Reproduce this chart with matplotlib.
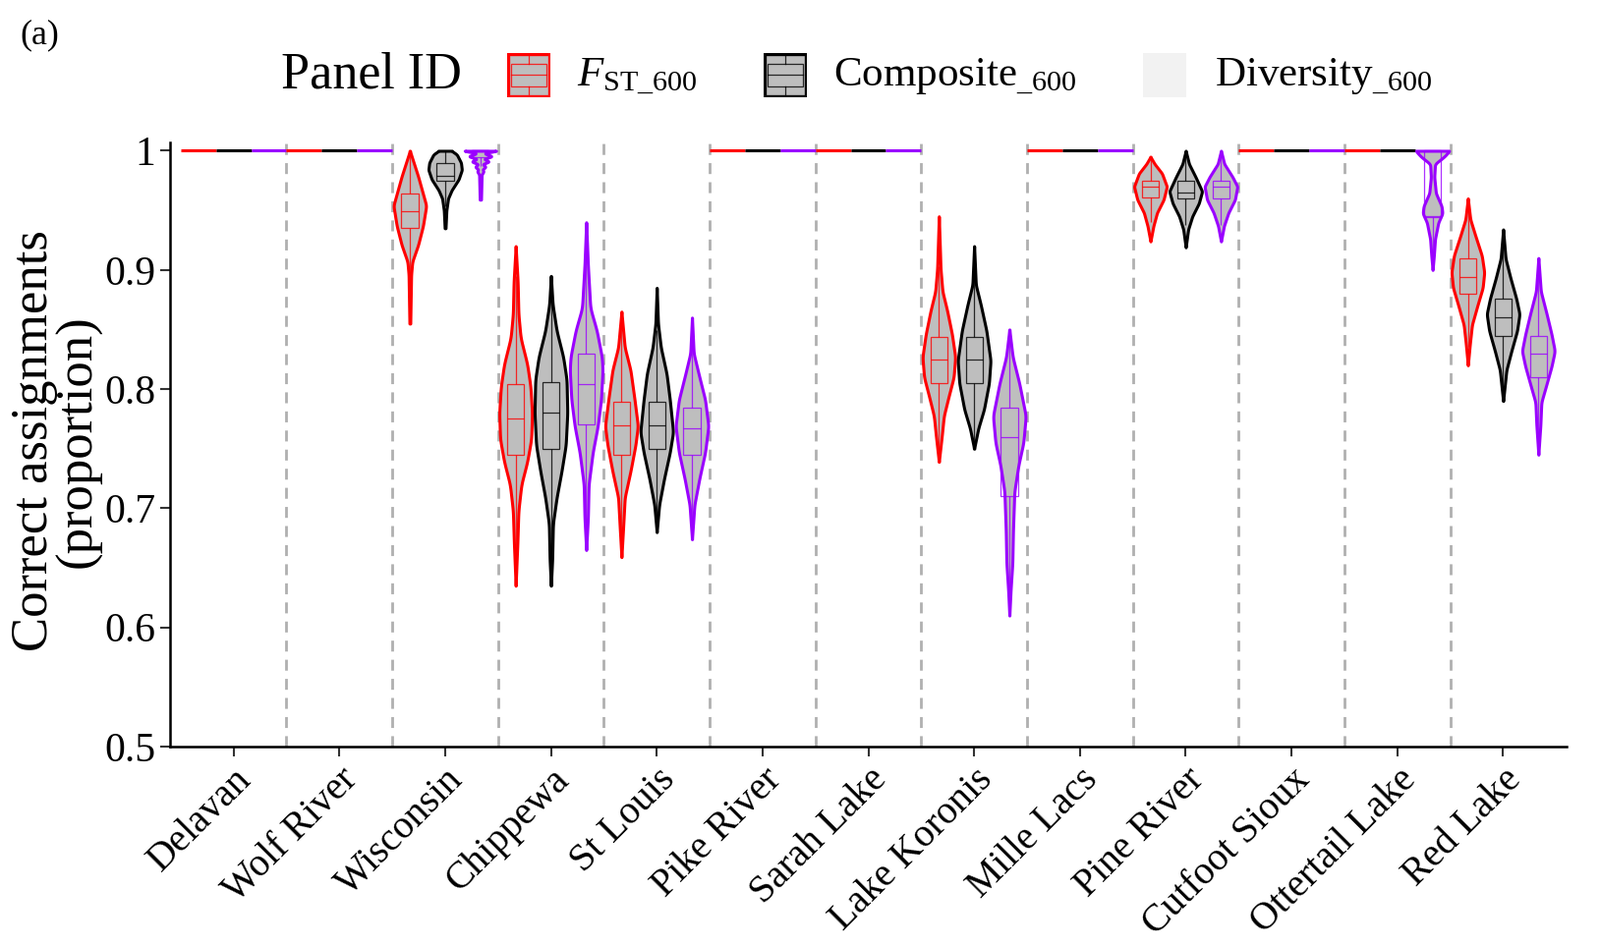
import numpy as np
import matplotlib
matplotlib.use('Agg')
import matplotlib.pyplot as plt
from matplotlib.patches import Rectangle

plt.rcParams['font.family'] = ['Liberation Serif', 'DejaVu Serif']
plt.rcParams['mathtext.fontset'] = 'custom'
plt.rcParams['mathtext.rm'] = 'Liberation Serif'
plt.rcParams['mathtext.it'] = 'Liberation Serif:italic'

populations = ['Delavan', 'Wolf River', 'Wisconsin', 'Chippewa', 'St Louis',
               'Pike River', 'Sarah Lake', 'Lake Koronis', 'Mille Lacs',
               'Pine River', 'Cutfoot Sioux', 'Ottertail Lake', 'Red Lake']
panel_colors = ['#FF0000', '#000000', '#9A00FF']

# violin outlines: (levels, density half-widths)
# populations not listed had every assignment correct (all values = 1)
fst_shape = {
    'Wisconsin': ([1.0, 0.9785, 0.954, 0.937, 0.921, 0.907, 0.896, 0.855],
                  [0.0, 0.078, 0.155, 0.124, 0.078, 0.023, 0.012, 0.004]),
    'Chippewa': ([0.92, 0.89, 0.863, 0.843, 0.821, 0.802, 0.78, 0.758, 0.739, 0.72, 0.698, 0.67, 0.635],
                 [0.0, 0.019, 0.026, 0.047, 0.109, 0.14, 0.155, 0.147, 0.109, 0.054, 0.026, 0.016, 0.0]),
    'St Louis': ([0.865, 0.835, 0.816, 0.791, 0.769, 0.753, 0.731, 0.709, 0.684, 0.659],
                 [0.0, 0.031, 0.085, 0.124, 0.155, 0.132, 0.085, 0.031, 0.016, 0.0]),
    'Lake Koronis': ([0.945, 0.901, 0.882, 0.866, 0.846, 0.827, 0.81, 0.794, 0.7775, 0.761, 0.739],
                     [0.0, 0.016, 0.034, 0.078, 0.124, 0.155, 0.14, 0.093, 0.047, 0.028, 0.0]),
    'Pine River': ([0.995, 0.989, 0.981, 0.97, 0.959, 0.948, 0.937, 0.924],
                   [0.0, 0.039, 0.109, 0.155, 0.124, 0.062, 0.028, 0.0]),
    'Red Lake': ([0.96, 0.9425, 0.929, 0.912, 0.898, 0.885, 0.871, 0.854, 0.838, 0.82],
                 [0.0, 0.023, 0.07, 0.132, 0.155, 0.14, 0.093, 0.039, 0.019, 0.0]),
}
composite_shape = {
    'Wisconsin': ([1.0, 0.997, 0.99, 0.984, 0.976, 0.967, 0.96, 0.95, 0.935],
                  [0.06, 0.11, 0.15, 0.158, 0.127, 0.062, 0.028, 0.012, 0.004]),
    'Chippewa': ([0.895, 0.871, 0.849, 0.827, 0.808, 0.78, 0.753, 0.731, 0.709, 0.687, 0.657, 0.635],
                 [0.0, 0.016, 0.054, 0.116, 0.148, 0.155, 0.14, 0.1, 0.054, 0.019, 0.012, 0.0]),
    'St Louis': ([0.885, 0.855, 0.835, 0.813, 0.791, 0.764, 0.747, 0.725, 0.703, 0.68],
                 [0.0, 0.012, 0.039, 0.093, 0.124, 0.155, 0.124, 0.07, 0.023, 0.0]),
    'Lake Koronis': ([0.92, 0.8875, 0.871, 0.849, 0.824, 0.805, 0.783, 0.767, 0.75],
                     [0.0, 0.016, 0.062, 0.116, 0.155, 0.14, 0.093, 0.039, 0.0]),
    'Pine River': ([1.0, 0.989, 0.978, 0.966, 0.956, 0.945, 0.934, 0.919],
                   [0.0, 0.031, 0.093, 0.155, 0.124, 0.062, 0.023, 0.0]),
    'Red Lake': ([0.934, 0.9095, 0.893, 0.876, 0.863, 0.849, 0.832, 0.816, 0.79],
                 [0.0, 0.023, 0.07, 0.124, 0.155, 0.132, 0.078, 0.031, 0.0]),
}
diversity_shape = {
    'Wisconsin': ([1.0, 0.998, 0.9954, 0.9932, 0.991, 0.9888, 0.9866, 0.9843, 0.9827, 0.98, 0.959],
                  [0.16, 0.03, 0.115, 0.03, 0.085, 0.02, 0.05, 0.02, 0.03, 0.012, 0.006]),
    'Chippewa': ([0.94, 0.904, 0.868, 0.849, 0.827, 0.816, 0.791, 0.769, 0.747, 0.72, 0.692, 0.665],
                 [0.0, 0.016, 0.039, 0.1, 0.148, 0.155, 0.14, 0.109, 0.062, 0.023, 0.016, 0.0]),
    'St Louis': ([0.86, 0.83, 0.813, 0.791, 0.769, 0.747, 0.725, 0.703, 0.674],
                 [0.0, 0.016, 0.062, 0.124, 0.155, 0.124, 0.07, 0.023, 0.0]),
    'Lake Koronis': ([0.85, 0.827, 0.805, 0.7775, 0.755, 0.736, 0.714, 0.681, 0.654, 0.632, 0.61],
                     [0.0, 0.031, 0.093, 0.155, 0.132, 0.085, 0.047, 0.034, 0.028, 0.012, 0.0]),
    'Pine River': ([1.0, 0.989, 0.978, 0.97, 0.959, 0.948, 0.937, 0.924],
                   [0.0, 0.031, 0.109, 0.155, 0.132, 0.07, 0.028, 0.0]),
    'Ottertail Lake': ([1.0, 0.995, 0.989, 0.978, 0.9645, 0.9535, 0.9475, 0.9398, 0.926, 0.912, 0.9],
                       [0.16, 0.109, 0.023, 0.016, 0.031, 0.085, 0.093, 0.054, 0.023, 0.012, 0.0]),
    'Red Lake': ([0.91, 0.882, 0.863, 0.846, 0.832, 0.819, 0.802, 0.789, 0.77, 0.745],
                 [0.0, 0.023, 0.078, 0.124, 0.155, 0.124, 0.07, 0.028, 0.019, 0.0]),
}

# box stats (q1, median, q3)
fst_box = {'Wisconsin': (0.935, 0.949, 0.9645), 'Chippewa': (0.7445, 0.775, 0.8045),
           'St Louis': (0.7445, 0.7698, 0.7896), 'Lake Koronis': (0.8048, 0.8248, 0.844),
           'Pine River': (0.961, 0.97, 0.975), 'Red Lake': (0.8798, 0.8944, 0.9095)}
composite_box = {'Wisconsin': (0.975, 0.979, 0.9895), 'Chippewa': (0.7495, 0.78, 0.806),
                 'St Louis': (0.7495, 0.7698, 0.7896), 'Lake Koronis': (0.8048, 0.8248, 0.844),
                 'Pine River': (0.96, 0.965, 0.975), 'Red Lake': (0.8449, 0.86, 0.8757)}
diversity_box = {'Wisconsin': (0.995, 1.0, 1.0), 'Chippewa': (0.77, 0.8045, 0.8295),
                 'St Louis': (0.7445, 0.767, 0.7847), 'Lake Koronis': (0.71, 0.7597, 0.7844),
                 'Pine River': (0.96, 0.97, 0.975), 'Ottertail Lake': (0.944, 0.945, 1.0),
                 'Red Lake': (0.8097, 0.8298, 0.8444)}

shapes = [fst_shape, composite_shape, diversity_shape]
boxes = [fst_box, composite_box, diversity_box]


def smooth_outline(levels, widths):
    levels = np.array(levels)
    widths = np.array(widths)
    order = np.argsort(levels)
    ys = np.linspace(levels.min(), levels.max(), 400)
    ws = np.interp(ys, levels[order], widths[order])
    span = ys[-1] - ys[0]
    n = int(min(0.016, span * 0.06) / (ys[1] - ys[0])) | 1
    n = max(n, 5)
    k = np.hanning(n + 2)[1:-1]
    k = k / k.sum()
    h = n // 2
    ws = np.convolve(np.pad(ws, h, mode='edge'), k, mode='valid')
    return ys, ws


W, H = 1628, 963
fig = plt.figure(figsize=(W / 100, H / 100), dpi=100)
ax = fig.add_axes([173 / W, 1 - 760 / H, (1594 - 173) / W, (760 - 145) / H])

fill = '#BEBEBE'
for i, pop in enumerate(populations):
    xc = i + 1
    for j in range(3):
        x = xc + (j - 1) / 3
        col = panel_colors[j]
        if pop not in shapes[j]:
            ax.hlines(1.0, x - 1 / 6, x + 1 / 6, color=col, lw=2.2, zorder=3)
            continue
        ys, ws = smooth_outline(*shapes[j][pop])
        ax.fill_betweenx(ys, x - ws, x + ws, facecolor=fill, edgecolor=col,
                         lw=2.2, zorder=3)
        q1, med, q3 = boxes[j][pop]
        iqr = q3 - q1
        lo = max(ys.min(), q1 - 1.5 * iqr)
        hi = min(ys.max(), q3 + 1.5 * iqr)
        ax.vlines(x, q3, hi, color=col, lw=0.9, zorder=4, alpha=0.8)
        ax.vlines(x, lo, q1, color=col, lw=0.9, zorder=4, alpha=0.8)
        ax.add_patch(Rectangle((x - 0.08, q1), 0.16, q3 - q1, facecolor='none',
                               edgecolor=col, lw=0.9, zorder=4, alpha=0.8))
        ax.hlines(med, x - 0.08, x + 0.08, color=col, lw=0.9, zorder=5, alpha=0.8)

for b in np.arange(1.5, 13.5, 1.0):
    ax.axvline(b, color='#B0B0B0', lw=2.0, dashes=(4, 3), zorder=1)

ax.set_xlim(0.4, 13.6)
ax.set_ylim(0.5, 1.007)
ax.set_xticks(range(1, 14))
ax.set_xticklabels(populations, rotation=45, ha='right', va='top',
                   rotation_mode='anchor', fontsize=28.5)
ax.set_yticks([0.5, 0.6, 0.7, 0.8, 0.9, 1.0])
ax.set_yticklabels(['0.5', '0.6', '0.7', '0.8', '0.9', '1'], fontsize=30)
ax.tick_params(axis='both', color='#333333', width=1.5, length=7)
ax.tick_params(axis='x', pad=4)
for s in ['top', 'right']:
    ax.spines[s].set_visible(False)
for s in ['left', 'bottom']:
    ax.spines[s].set_linewidth(1.8)
ax.set_ylabel('Correct assignments\n(proportion)', fontsize=38, linespacing=0.9)
ax.yaxis.set_label_coords(-0.049, 0.506)

# legend
fig.text(20 / W, 1 - 36 / H, '(a)', fontsize=26, va='center')
fig.text(286 / W, 1 - 76 / H, 'Panel ID', fontsize=37.5, va='center')
key_x = [516, 777, 1163]
for j, kx in enumerate(key_x):
    kax = fig.add_axes([kx / W, 1 - 99 / H, 44 / W, 45 / H])
    kax.set_xlim(0, 1)
    kax.set_ylim(0, 1)
    kax.axis('off')
    if j < 2:
        col = panel_colors[j]
        kax.add_patch(Rectangle((0.02, 0.02), 0.96, 0.96, facecolor=fill,
                                edgecolor=col, lw=2.4, transform=kax.transAxes))
        kax.add_patch(Rectangle((0.1, 0.25), 0.8, 0.5, facecolor=fill,
                                edgecolor=col, lw=0.9, alpha=0.8))
        kax.plot([0.1, 0.9], [0.5, 0.5], color=col, lw=0.9, alpha=0.8)
        kax.plot([0.5, 0.5], [0.75, 0.95], color=col, lw=0.9, alpha=0.8)
        kax.plot([0.5, 0.5], [0.05, 0.25], color=col, lw=0.9, alpha=0.8)
    else:
        kax.add_patch(Rectangle((0, 0), 1, 1, facecolor='#F2F2F2', edgecolor='none'))

fig.text(587 / W, 1 - 78 / H, r'$F_{\mathrm{ST\_600}}$', fontsize=31, va='center')
fig.text(848 / W, 1 - 78 / H, r'Composite$_{\mathrm{\_600}}$', fontsize=31, va='center')
fig.text(1236 / W, 1 - 78 / H, r'Diversity$_{\mathrm{\_600}}$', fontsize=31, va='center')

fig.savefig('out.png', dpi=100)
